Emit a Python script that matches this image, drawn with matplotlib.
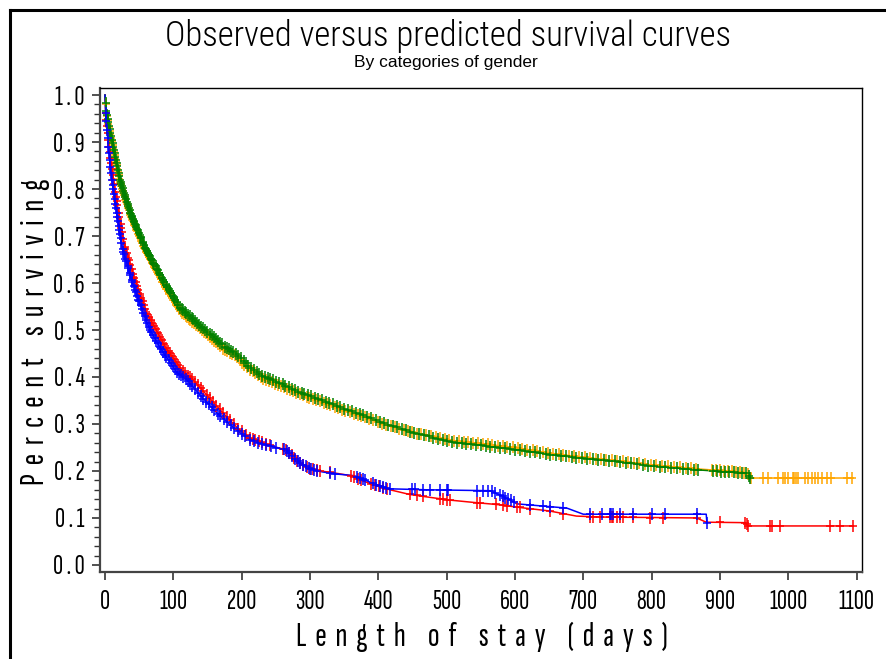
import numpy as np
import matplotlib
matplotlib.use("Agg")
import matplotlib.pyplot as plt
from matplotlib.path import Path
from matplotlib.lines import Line2D
from matplotlib import font_manager as fm

# ---------------- data ----------------
title = "Observed versus predicted survival curves"
subtitle = "By categories of gender"
xlabel = "Length of stay (days)"
ylabel = "Percent surviving"
xticks = [0, 100, 200, 300, 400, 500, 600, 700, 800, 900, 1000, 1100]
yticks = [0.0, 0.1, 0.2, 0.3, 0.4, 0.5, 0.6, 0.7, 0.8, 0.9, 1.0]

# upper pair (green / orange)
green_t = [0, 2, 12, 22, 37, 58, 85, 110, 135, 158, 175, 190, 210, 230, 256, 280, 305, 330, 354,
           383, 410, 456, 505, 553, 603, 651, 700, 749, 798, 871, 920, 940, 944]
green_s = [1.0, 0.965, 0.89, 0.82, 0.75, 0.678, 0.606, 0.547, 0.515, 0.486, 0.464, 0.452, 0.424, 0.403,
           0.387, 0.37, 0.357, 0.344, 0.33, 0.316, 0.3, 0.28, 0.262, 0.254, 0.245, 0.235, 0.227, 0.22,
           0.211, 0.202, 0.197, 0.195, 0.184]
green_cens = [1, 2, 3, 4, 5, 6, 7, 8, 9, 10, 11, 12, 13, 14, 15, 16, 17, 18, 19, 20, 21, 22, 23, 24, 25,
              26, 27, 28, 29, 30, 31, 32, 33, 34, 35, 36, 37, 38, 39, 40, 41, 42, 43, 44, 45, 46, 47, 48,
              50, 51, 52, 53, 55, 56, 57, 59, 60, 62, 63, 65, 66, 68, 69, 71, 72, 74, 76, 77, 79, 81, 83,
              85, 87, 89, 91, 93, 95, 97, 99, 101, 103, 105, 107, 110, 112, 114, 117, 119, 122, 124, 127,
              129, 132, 135, 138, 141, 144, 147, 150, 153, 156, 159, 162, 165, 168, 171, 175, 178, 181,
              185, 188, 192, 195, 199, 203, 206, 210, 214, 218, 222, 226, 230, 234, 238, 242, 246, 251,
              255, 260, 264, 269, 273, 278, 283, 288, 292, 297, 302, 307, 312, 317, 323, 328, 333, 339,
              344, 350, 355, 361, 367, 373, 378, 384, 390, 396, 402, 408, 414, 421, 427, 434, 440, 447,
              453, 460, 467, 474, 480, 487, 494, 501, 508, 515, 522, 529, 536, 543, 550, 557, 564, 571,
              578, 586, 593, 600, 607, 615, 622, 629, 637, 645, 652, 660, 667, 675, 683, 690, 698, 706,
              714, 722, 730, 738, 746, 754, 762, 770, 778, 787, 795, 803, 812, 820, 829, 837, 846, 854,
              862, 868, 890, 896, 902, 908, 914, 920, 926, 932, 938, 942, 944]

orange_t = [0, 2, 12, 22, 37, 58, 85, 110, 135, 158, 175, 190, 210, 230, 256, 280, 305, 330, 354,
            383, 410, 456, 505, 553, 603, 651, 700, 749, 798, 871, 920, 940, 946, 1095]
orange_s = [1.0, 0.962, 0.886, 0.815, 0.745, 0.672, 0.6, 0.541, 0.509, 0.48, 0.458, 0.446, 0.418,
            0.397, 0.382, 0.366, 0.353, 0.34, 0.327, 0.313, 0.298, 0.28, 0.265, 0.258, 0.249, 0.238,
            0.229, 0.222, 0.213, 0.204, 0.199, 0.196, 0.185, 0.185]
orange_cens = [1, 2, 3, 4, 5, 6, 7, 8, 9, 10, 11, 12, 13, 14, 15, 16, 17, 18, 19, 20, 21, 22, 23, 24,
               25, 26, 27, 28, 29, 30, 31, 32, 33, 34, 35, 36, 37, 38, 39, 40, 41, 42, 43, 44, 45, 46,
               47, 49, 50, 51, 53, 54, 56, 57, 58, 60, 61, 63, 64, 66, 67, 69, 70, 72, 73, 75, 77, 78,
               80, 82, 84, 86, 88, 90, 92, 94, 96, 98, 100, 102, 104, 106, 108, 111, 113, 115, 118, 120,
               123, 125, 128, 130, 133, 136, 139, 142, 145, 148, 151, 154, 157, 160, 163, 166, 169, 173,
               176, 179, 183, 186, 190, 193, 197, 201, 204, 208, 212, 216, 220, 224, 228, 232, 236, 240,
               244, 249, 253, 257, 262, 266, 271, 275, 280, 285, 290, 295, 299, 304, 309, 314, 320, 325,
               330, 336, 341, 347, 352, 358, 364, 370, 375, 381, 387, 393, 399, 405, 411, 418, 424, 431,
               437, 444, 450, 457, 463, 470, 477, 484, 490, 497, 504, 511, 518, 525, 532, 539, 546, 553,
               560, 567, 575, 582, 589, 597, 604, 611, 618, 626, 633, 641, 648, 656, 664, 671, 679, 686,
               694, 702, 710, 718, 726, 734, 742, 750, 758, 766, 774, 782, 791, 799, 807, 816, 824, 833,
               841, 850, 858, 865, 888, 894, 900, 906, 912, 918, 924, 930, 936, 941, 946, 963, 971, 985,
               992, 995, 999, 1007, 1009, 1011, 1014, 1024, 1029, 1035, 1039, 1044, 1050, 1057, 1062,
               1086, 1094]

# lower pair (red / blue)
red_t = [0, 1, 6, 12, 20, 29, 44, 61, 75, 88, 100, 115, 129, 150, 173, 195, 212, 235, 252, 265, 281,
         300, 315, 335, 360, 375, 395, 417, 446, 470, 505, 540, 578, 603, 650, 690, 725, 866, 880, 937,
         941, 1095]
red_s = [1.0, 0.962, 0.89, 0.819, 0.749, 0.677, 0.606, 0.536, 0.5, 0.464, 0.44, 0.41, 0.394, 0.36,
         0.323, 0.29, 0.27, 0.258, 0.25, 0.245, 0.221, 0.205, 0.2, 0.196, 0.19, 0.18, 0.17, 0.16, 0.15,
         0.145, 0.138, 0.133, 0.128, 0.123, 0.115, 0.104, 0.102, 0.1, 0.091, 0.09, 0.083, 0.083]
red_cens = [1, 2, 3, 4, 5, 6, 7, 8, 9, 10, 11, 12, 13, 15, 16, 17, 18, 20, 21, 23, 24, 25, 27, 29, 30,
            32, 34, 35, 37, 39, 41, 43, 45, 47, 49, 51, 53, 55, 57, 59, 62, 64, 67, 69, 72, 74, 77, 80,
            83, 86, 89, 92, 95, 98, 101, 104, 107, 110, 114, 117, 121, 124, 128, 132, 136, 140, 144,
            149, 153, 158, 163, 168, 173, 178, 183, 189, 195, 200, 206, 212, 216, 220, 225, 230, 235,
            241, 261, 265, 269, 273, 277, 281, 286, 290, 295, 300, 305, 310, 315, 329, 360, 365, 370,
            374, 389, 395, 401, 407, 413, 446, 456, 466, 490, 495, 500, 505, 544, 549, 573, 583, 588,
            603, 607, 622, 652, 671, 710, 715, 725, 739, 742, 744, 750, 754, 758, 773, 798, 817, 867,
            900, 937, 939, 941, 974, 977, 988, 1061, 1076, 1095]

blue_t = [0, 1, 5, 10, 17, 25, 39, 56, 66, 80, 105, 120, 140, 164, 190, 212, 235, 252, 265, 281, 300,
          310, 335, 365, 395, 417, 470, 564, 588, 603, 676, 700, 880, 881]
blue_s = [1.0, 0.962, 0.89, 0.819, 0.749, 0.677, 0.606, 0.536, 0.5, 0.464, 0.41, 0.394, 0.36, 0.323,
          0.29, 0.266, 0.255, 0.249, 0.245, 0.221, 0.205, 0.2, 0.194, 0.19, 0.172, 0.162, 0.16, 0.158,
          0.142, 0.13, 0.121, 0.108, 0.108, 0.089]
blue_cens = [1, 2, 3, 4, 5, 6, 7, 8, 9, 10, 11, 12, 13, 14, 15, 16, 17, 18, 19, 20, 21, 22, 23, 24, 26,
             27, 28, 30, 31, 33, 34, 36, 37, 39, 40, 42, 44, 45, 47, 49, 50, 52, 54, 56, 58, 60, 62, 64,
             66, 68, 70, 73, 75, 77, 80, 82, 85, 88, 90, 93, 96, 99, 102, 105, 108, 111, 114, 118, 121,
             125, 128, 132, 136, 140, 144, 148, 152, 156, 160, 165, 169, 174, 179, 184, 189, 194, 200,
             205, 212, 218, 224, 230, 236, 243, 250, 262, 266, 270, 274, 278, 282, 286, 290, 294, 298,
             302, 306, 310, 329, 336, 369, 373, 377, 381, 392, 397, 402, 407, 412, 417, 449, 454, 466,
             476, 490, 500, 502, 544, 553, 561, 566, 571, 578, 582, 586, 590, 594, 598, 622, 641, 652,
             671, 710, 727, 739, 741, 744, 754, 773, 801, 820, 867, 881]

series = [
    ("orange", orange_t, orange_s, orange_cens),
    ("red", red_t, red_s, red_cens),
    ("green", green_t, green_s, green_cens),
    ("blue", blue_t, blue_s, blue_cens),
]

# ---------------- fonts ----------------
avail = {f.name for f in fm.fontManager.ttflist}


def pick(cands):
    for c in cands:
        if c in avail:
            return c
    return "DejaVu Sans"


narrow = pick(["Sofia Sans Extra Condensed", "Saira ExtraCondensed", "Fira Sans Extra Condensed",
               "Roboto Condensed"])
titlef = pick(["Roboto Condensed", "Archivo Narrow", "PT Sans Narrow", "Liberation Sans"])
sans = pick(["Liberation Sans", "DejaVu Sans"])


def spaced(s, sep=" "):
    return sep.join(list(s))


# ---------------- figure ----------------
W, H = 886, 659
fig = plt.figure(figsize=(W / 100, H / 100), dpi=100)
ax = fig.add_axes([100 / W, 1 - 572 / H, (862 - 100) / W, (572 - 88) / H])

plus = Path([(-0.4, 0), (0.4, 0), (0, -0.5), (0, 0.5)],
            [Path.MOVETO, Path.LINETO, Path.MOVETO, Path.LINETO])

for col, t, s, c in series:
    ax.plot(t, s, color=col, lw=1.1, zorder=2)
    cy = np.interp(c, t, s)
    ax.plot(c, cy, ls="none", marker=plus, ms=8, mew=1.1, mec=col, color=col, zorder=3)

ax.set_xlim(-7.3, 1108)
ax.set_ylim(-0.015, 1.015)
ax.set_xticks(xticks)
ax.set_xticklabels([str(v) for v in xticks], fontfamily=narrow, fontweight="light", fontsize=20)
ax.set_yticks(yticks)
ax.set_yticklabels([spaced(f"{v:.1f}") for v in yticks], fontfamily=narrow,
                   fontweight="light", fontsize=20)
ax.set_yticks(np.arange(0, 1.001, 0.02), minor=True)
ax.tick_params(axis="both", which="major", direction="out", length=6, width=1.2, colors="#333333",
               labelcolor="black")
ax.tick_params(axis="x", which="major", pad=7)
ax.tick_params(axis="y", which="major", pad=5)
ax.tick_params(axis="y", which="minor", direction="out", length=4, width=1.0, colors="#333333")
for sp in ax.spines.values():
    sp.set_linewidth(1.0)
for k in ("left", "bottom"):
    ax.spines[k].set_linewidth(1.6)
    ax.spines[k].set_color("#444444")

fig.text(482 / W, 1 - 637 / H, spaced(xlabel, "  "), ha="center", va="center", fontfamily=narrow,
         fontweight="light", fontsize=25)
fig.text(35 / W, 1 - 332 / H, spaced(ylabel, "  "), ha="center", va="center", rotation=90,
         fontfamily=narrow, fontweight="light", fontsize=25)

fig.text(448 / W, 1 - 36 / H, title, ha="center", va="center", fontfamily=titlef,
         fontweight="light", fontsize=25)
fig.text(446 / W, 1 - 62 / H, subtitle, ha="center", va="center", fontfamily=sans, fontsize=12.5)

# outer frame (top and left edges)
fig.add_artist(Line2D([10 / W, 1.0], [1 - 10 / H, 1 - 10 / H], transform=fig.transFigure,
                      color="black", lw=2.2))
fig.add_artist(Line2D([10 / W, 10 / W], [0.0, 1 - 10 / H], transform=fig.transFigure,
                      color="black", lw=2.2))

fig.savefig("out.png", dpi=100)
